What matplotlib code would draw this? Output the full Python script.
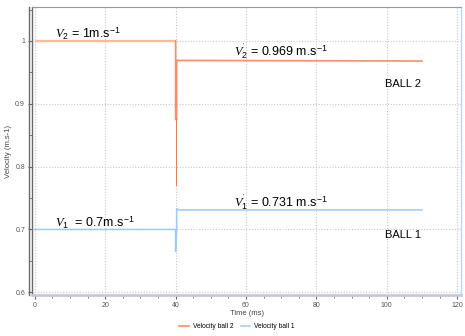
import matplotlib
matplotlib.use("Agg")
import matplotlib.pyplot as plt
from matplotlib.ticker import MultipleLocator
from matplotlib.lines import Line2D
import matplotlib.transforms as mtransforms

plt.rcParams['font.family'] = ['Liberation Sans', 'DejaVu Sans']
plt.rcParams['mathtext.fontset'] = 'custom'
plt.rcParams['mathtext.it'] = 'Liberation Serif:italic'
plt.rcParams['mathtext.rm'] = 'Liberation Sans'

# Velocity traces (time in ms, velocity in m/s)
t_ball2 = [0, 40.0, 40.0, 40.3, 40.3, 40.6, 110]
v_ball2 = [1.0, 1.0, 0.875, 0.875, 0.969, 0.969, 0.968]
t_ball2_spike = [40.15, 40.15]
v_ball2_spike = [0.875, 0.771]
t_ball1 = [0, 40.0, 40.0, 40.3, 40.3, 41.0, 110]
v_ball1 = [0.7, 0.7, 0.665, 0.7, 0.733, 0.731, 0.731]

x_ticks = [0, 20, 40, 60, 80, 100, 120]
y_ticks = [0.6, 0.7, 0.8, 0.9, 1.0]
y_tick_labels = ['0.6', '0.7', '0.8', '0.9', '1']

c_ball2 = '#f39166'
c_ball2_pre = '#fbb999'
c_ball1 = '#9ccaf2'

fig = plt.figure(figsize=(4.65, 3.36), dpi=100)
ax = fig.add_axes([32/465, 41/336, 429/465, 288/336])

# ball 2: lighter before the impact, stronger after
ax.plot(t_ball2[:2], v_ball2[:2], color=c_ball2_pre, lw=1.6, solid_capstyle='butt')
ax.plot(t_ball2[1:], v_ball2[1:], color=c_ball2, lw=1.2, label='Velocity ball 2')
ax.plot(t_ball2_spike, v_ball2_spike, color='#d9703f', lw=0.6)
ax.plot(t_ball1, v_ball1, color=c_ball1, lw=1.1, label='Velocity ball 1')

ax.set_xlim(-0.8, 121.1)
ax.set_ylim(0.5957, 1.054)
ax.set_xticks(x_ticks)
ax.set_yticks(y_ticks)
ax.set_yticklabels(y_tick_labels)
ax.xaxis.set_minor_locator(MultipleLocator(5))
ax.yaxis.set_minor_locator(MultipleLocator(0.05))
ax.tick_params(axis='both', which='major', labelsize=5, length=3, width=0.8,
               color='#666666', labelcolor='#555555', pad=2)
ax.tick_params(axis='both', which='minor', length=2, width=0.6, color='#666666')
ax.grid(True, which='major', linestyle=(0, (1, 1.5)), color='#c8c8c8', lw=0.8)

# double-lined left axis
ax.spines['left'].set_color('#6a6a6a')
ax.spines['left'].set_linewidth(1.0)
outer = mtransforms.offset_copy(ax.transAxes, fig=fig, x=-3, y=0, units='dots')
ax.add_line(Line2D([0, 0], [0, 1], transform=outer, color='#6a6a6a', lw=1.0,
                   clip_on=False))
ax.spines['bottom'].set_color('#c8c8dc')
ax.spines['bottom'].set_linewidth(2.0)
ax.spines['top'].set_color('#999999')
ax.spines['top'].set_linewidth(0.8)
ax.spines['right'].set_color('#c6d4f0')
ax.spines['right'].set_linewidth(1.0)

ax.set_xlabel('Time (ms)', fontsize=5.5, color='#444444', labelpad=1)
ax.set_ylabel('Velocity (m.s-1)', fontsize=5.5, color='#444444', labelpad=2)

ax.text(5.8, 1.012, r'$V_2$ = 1m.s$^{-1}$', fontsize=9, va='center')
ax.text(56.5, 0.984, r"$V_2^{'}$ = 0.969 m.s$^{-1}$", fontsize=9, va='center')
ax.text(99.5, 0.931, 'BALL 2', fontsize=8, va='center')
ax.text(5.8, 0.711, r'$V_1$  = 0.7m.s$^{-1}$', fontsize=9, va='center')
ax.text(56.5, 0.743, r"$V_1^{'}$ = 0.731 m.s$^{-1}$", fontsize=9, va='center')
ax.text(99.5, 0.691, 'BALL 1', fontsize=8, va='center')

fig.legend(loc='center', bbox_to_anchor=(0.51, 0.027), ncol=2, fontsize=4.8,
           frameon=False, handlelength=1.4, columnspacing=1.2, handletextpad=0.6)

fig.savefig('out.png', dpi=100)
